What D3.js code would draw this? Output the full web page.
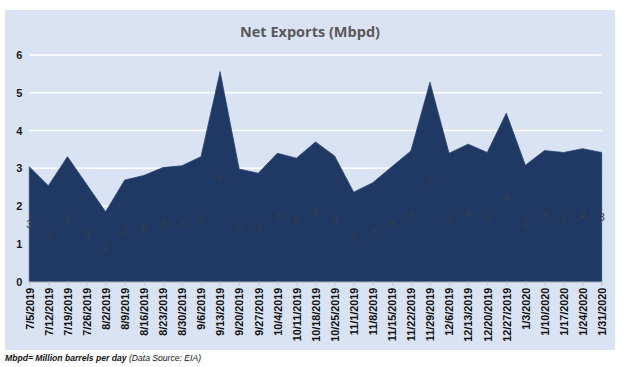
<!DOCTYPE html>
<html><head><meta charset="utf-8">
<script src="https://cdn.jsdelivr.net/npm/d3@7"></script>
<style>body{margin:0;background:#fff;} svg{display:block;}</style>
</head><body>
<svg id="c" width="624" height="367"></svg>
<script>
const dates = ["7/5/2019","7/12/2019","7/19/2019","7/26/2019","8/2/2019","8/9/2019","8/16/2019","8/23/2019","8/30/2019","9/6/2019","9/13/2019","9/20/2019","9/27/2019","10/4/2019","10/11/2019","10/18/2019","10/25/2019","11/1/2019","11/8/2019","11/15/2019","11/22/2019","11/29/2019","12/6/2019","12/13/2019","12/20/2019","12/27/2019","1/3/2020","1/10/2020","1/17/2020","1/24/2020","1/31/2020"];
const netExports = [3.04,2.54,3.31,2.58,1.85,2.69,2.81,3.02,3.07,3.31,5.56,2.98,2.87,3.40,3.27,3.70,3.33,2.37,2.62,3.04,3.46,5.28,3.40,3.64,3.42,4.46,3.08,3.47,3.42,3.52,3.42];
const yTicks = [0,1,2,3,4,5,6];

const svg = d3.select("#c");
const L = 29.3, R = 601.7, T = 55, B = 281.7;

svg.append("rect").attr("x",5).attr("y",10).attr("width",610).attr("height",340)
  .attr("fill","#dae3f3");

svg.append("text").attr("x",310).attr("y",37).attr("text-anchor","middle")
  .attr("font-family","Open Sans, sans-serif").attr("font-weight","bold").attr("font-size",14.5)
  .attr("fill","#595959").text("Net Exports (Mbpd)");

const x = d3.scalePoint().domain(dates).range([L,R]);
const y = d3.scaleLinear().domain([0,6]).range([B,T]);

// gridlines
svg.append("g").selectAll("line").data(yTicks.filter(d=>d>0)).join("line")
  .attr("x1",L).attr("x2",R).attr("y1",d=>y(d)).attr("y2",d=>y(d))
  .attr("stroke","#ffffff").attr("stroke-width",1.5);

// y axis labels
const ya = svg.append("g").attr("transform",`translate(${L-7},0)`)
  .call(d3.axisLeft(y).tickValues(yTicks).tickSize(0).tickPadding(0).tickFormat(d3.format("d")));
ya.select(".domain").remove();
ya.selectAll("text").attr("font-family","Liberation Sans, Arial, sans-serif").attr("font-weight","bold")
  .attr("font-size",11).attr("fill","#1a1a1a");

// area
const data = dates.map((d,i)=>({d, v: netExports[i]}));
svg.append("path").datum(data)
  .attr("d", d3.area().x(p=>x(p.d)).y0(y(0)).y1(p=>y(p.v)))
  .attr("fill","#1f3864").attr("stroke","#2a4472").attr("stroke-width",0.8);

// data labels
svg.append("g").selectAll("text").data(data).join("text")
  .attr("x",p=>x(p.d)).attr("y",p=>y(p.v/2)).attr("dy","0.35em").attr("text-anchor","middle")
  .attr("font-family","Liberation Sans, Arial, sans-serif").attr("font-size",11)
  .attr("fill","#3b3f48").text(p=>Math.round(p.v));

// x axis
const xa = svg.append("g").attr("transform",`translate(0,${B})`)
  .call(d3.axisBottom(x).tickSize(4).tickPadding(3));
xa.select(".domain").attr("stroke","#c8c8c8");
xa.selectAll(".tick line").attr("stroke","#c8c8c8");
xa.selectAll("text").attr("transform","rotate(-90)").attr("text-anchor","end")
  .attr("x",-6).attr("y",0).attr("dy","0.35em")
  .attr("font-family","Liberation Sans, Arial, sans-serif").attr("font-weight","bold")
  .attr("font-size",10.8).attr("fill","#111");

// footnote
const fn = svg.append("text").attr("x",5).attr("y",361)
  .attr("font-family","Liberation Sans, Arial, sans-serif").attr("font-size",8.6)
  .attr("font-style","italic").attr("fill","#111");
fn.append("tspan").attr("font-weight","bold").text("Mbpd= Million barrels per day");
fn.append("tspan").text(" (Data Source: EIA)");
</script>
</body></html>
